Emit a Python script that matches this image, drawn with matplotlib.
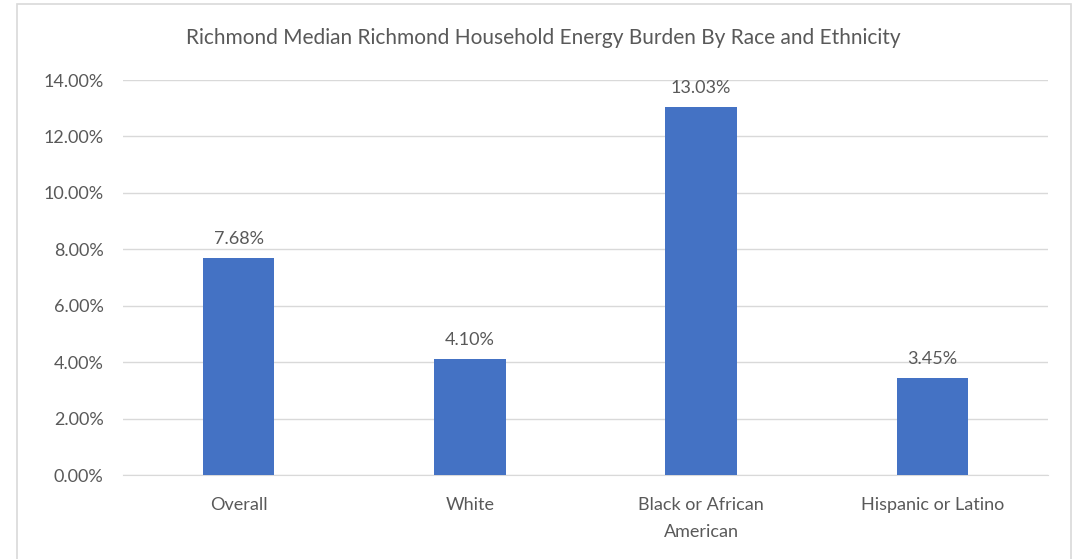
import matplotlib
matplotlib.use("Agg")
import matplotlib.pyplot as plt
from matplotlib.patches import Rectangle
from matplotlib.ticker import FuncFormatter, MultipleLocator

categories = ["Overall", "White", "Black or African\nAmerican", "Hispanic or Latino"]
values = [7.68, 4.10, 13.03, 3.45]
title = "Richmond Median Richmond Household Energy Burden By Race and Ethnicity"

bar_color = "#4472C4"
text_color = "#595959"
grid_color = "#D9D9D9"
font = ["Lato", "DejaVu Sans"]

W, H = 1076, 559
fig = plt.figure(figsize=(W / 100, H / 100), dpi=100)
fig.patch.set_facecolor("white")

# outer chart border
fig.add_artist(Rectangle((17 / W, -0.01), (1071 - 17) / W, 1 - 4 / H + 0.01,
                         transform=fig.transFigure, fill=False,
                         edgecolor="#D9D9D9", linewidth=1.2))

left, right, top, bottom = 123, 1048, 80, 475
ax = fig.add_axes([left / W, 1 - bottom / H, (right - left) / W, (bottom - top) / H])

x = range(len(categories))
bars = ax.bar(x, values, width=0.31, color=bar_color, zorder=3)
ax.set_xlim(-0.5, len(categories) - 0.5)
ax.set_ylim(0, 14)
ax.yaxis.set_major_locator(MultipleLocator(2))
ax.yaxis.set_major_formatter(FuncFormatter(lambda v, p: f"{v:.2f}%"))
ax.grid(axis="y", color=grid_color, linewidth=1, zorder=0)
for s in ["top", "right", "left"]:
    ax.spines[s].set_visible(False)
ax.spines["bottom"].set_color(grid_color)
ax.tick_params(axis="both", length=0, colors=text_color, labelsize=13)
ax.tick_params(axis="y", pad=14)
ax.tick_params(axis="x", pad=16)
ax.set_xticks(list(x))
ax.set_xticklabels(categories, family=font, linespacing=1.85)
for lbl in ax.get_yticklabels():
    lbl.set_family(font)

for xi, v in zip(x, values):
    ax.annotate(f"{v:.2f}%", (xi, v), xytext=(0, 8), textcoords="offset points",
                ha="center", va="bottom", fontsize=13, color=text_color, family=font)

fig.text(543 / W, 1 - 38 / H, title, ha="center", va="center", fontsize=15,
         color=text_color, family=font)

fig.savefig("out.png", dpi=100, facecolor="white")
